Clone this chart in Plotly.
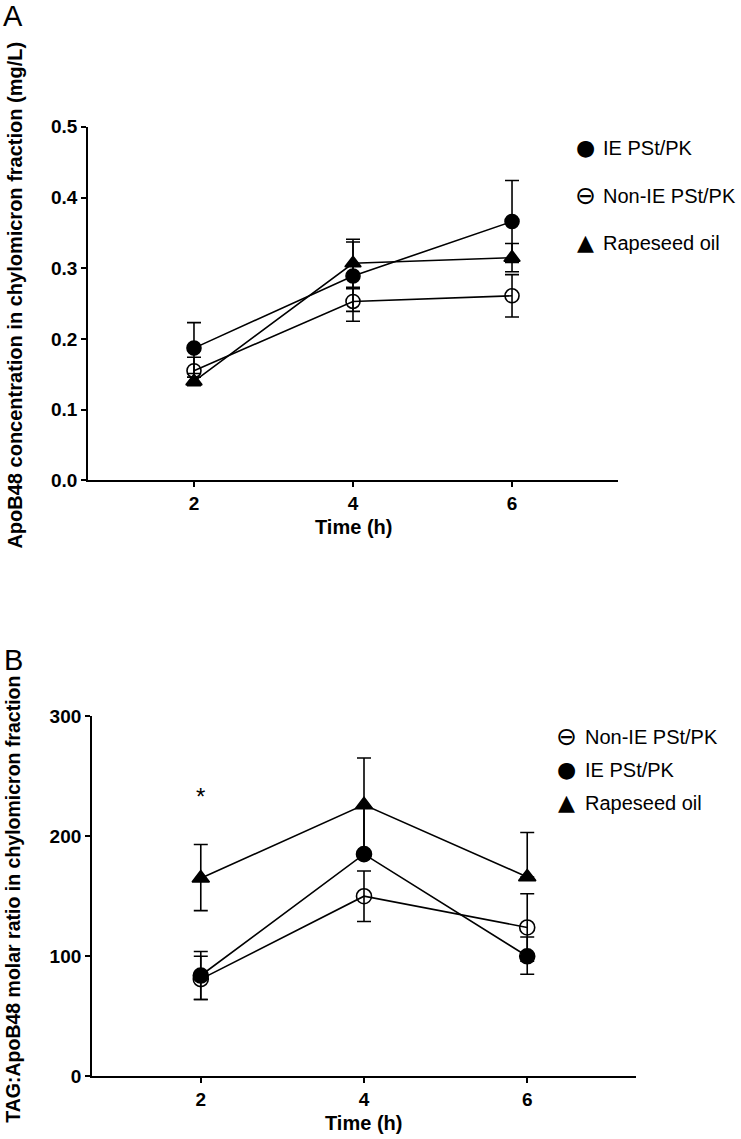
import plotly.graph_objects as go

W, H = 741, 1139

# ---------------- data ----------------
time_h = [2, 4, 6]

# Panel A: ApoB48 concentration (mg/L)
a_ie = [0.187, 0.289, 0.366]
a_ie_up = [0.036, 0.048, 0.058]
a_ie_dn = [0.036, 0.050, 0.058]
a_non = [0.155, 0.253, 0.261]
a_non_up = [0.019, 0.018, 0.030]
a_non_dn = [0.019, 0.028, 0.030]
a_rape = [0.140, 0.307, 0.315]
a_rape_up = [0.006, 0.034, 0.020]
a_rape_dn = [0.006, 0.034, 0.020]

# Panel B: TAG:ApoB48 molar ratio
b_non = [81, 150, 124]
b_non_up = [19, 21, 28]
b_non_dn = [17, 21, 28]
b_ie = [84, 185, 100]
b_ie_up = [20, 40, 16]
b_ie_dn = [20, 0, 15]
b_rape = [165, 226, 166]
b_rape_up = [28, 39, 37]
b_rape_dn = [27, 39, 0]

yticks_a = [0.0, 0.1, 0.2, 0.3, 0.4, 0.5]
yticks_a_txt = ["0.0", "0.1", "0.2", "0.3", "0.4", "0.5"]
yticks_b = [0, 100, 200, 300]
xticks = [2, 4, 6]

FONT = "Liberation Sans, Arial, sans-serif"

def px_x(p):
    return p / W

def px_y(p):
    # empirical correction for the vertical placement seen in the photographs
    q = (p - 9) / 0.983
    return 1 - q / H

fig = go.Figure()

def add_series(y, up, dn, symbol, xa, ya, size):
    fig.add_trace(go.Scatter(
        x=time_h, y=y, mode="lines+markers", xaxis=xa, yaxis=ya,
        line=dict(color="black", width=1.6),
        marker=dict(symbol=symbol, size=size, color="black",
                    line=dict(color="black", width=1.6)),
        error_y=dict(type="data", symmetric=False, array=up, arrayminus=dn,
                     color="black", thickness=1.6, width=7),
        showlegend=False, cliponaxis=False,
    ))

# Panel A
add_series(a_rape, a_rape_up, a_rape_dn, "triangle-up", "x", "y", 14)
add_series(a_non, a_non_up, a_non_dn, "circle-open", "x", "y", 14)
add_series(a_ie, a_ie_up, a_ie_dn, "circle", "x", "y", 14)
# Panel B
add_series(b_rape, b_rape_up, b_rape_dn, "triangle-up", "x2", "y2", 15)
add_series(b_non, b_non_up, b_non_dn, "circle-open", "x2", "y2", 15)
add_series(b_ie, b_ie_up, b_ie_dn, "circle", "x2", "y2", 15)

axis_common = dict(
    showgrid=False, zeroline=False, showline=True, linecolor="black", linewidth=1.8,
    ticks="outside", ticklen=5, tickwidth=1.6, tickcolor="black",
    tickfont=dict(family=FONT, size=19, color="black", weight="bold"),
)

fig.update_layout(
    width=W, height=H,
    margin=dict(l=0, r=0, t=0, b=0),
    paper_bgcolor="white", plot_bgcolor="white",
    xaxis=dict(domain=[px_x(88), px_x(618)], range=[0.667, 7.333],
               tickvals=xticks, anchor="y", **axis_common),
    yaxis=dict(domain=[px_y(480), px_y(126)], range=[0, 0.5],
               tickvals=yticks_a, ticktext=yticks_a_txt, anchor="x", **axis_common),
    xaxis2=dict(domain=[px_x(92), px_x(636)], range=[0.667, 7.333],
                tickvals=xticks, anchor="y2", **axis_common),
    yaxis2=dict(domain=[px_y(1077), px_y(716)], range=[0, 300],
                tickvals=yticks_b, anchor="x2", **axis_common),
    showlegend=False,
)

ann = []
def text(x, y, s, size=19, bold=True, angle=0, xanchor="center", family=FONT):
    ann.append(dict(x=px_x(x), y=px_y(y), xref="paper", yref="paper", text=s,
                    showarrow=False, textangle=angle, xanchor=xanchor, yanchor="middle",
                    font=dict(family=family, size=size, color="black",
                              weight="bold" if bold else "normal")))

# Panel letters
LET = "Liberation Sans Narrow, Liberation Sans, sans-serif"
text(13, 15, "A", size=29, bold=False, family=LET)
text(13, 660, "B", size=29, bold=False, family=LET)

# Axis titles
text(353, 527, "Time (h)", size=20)
text(363, 1124, "Time (h)", size=20)
text(15, 295, "ApoB48 concentration in chylomicron fraction (mg/L)", size=20, angle=-90)
text(13, 900, "TAG:ApoB48 molar ratio in chylomicron fraction", size=19.5, angle=-90)

# Significance marker
ann.append(dict(x=2, y=233, xref="x2", yref="y2", text="*", showarrow=False,
                font=dict(family=FONT, size=24, color="black")))

# Legends
SYM = "DejaVu Sans, sans-serif"
def legend_row(xs, xt, y, sym, label, ssize=22):
    text(xs, y, sym, size=ssize, bold=False, family=SYM)
    text(xt, y, label, size=20, bold=False, xanchor="left")

legend_row(585, 601, 147, "●", "IE PSt/PK")
legend_row(585, 601, 195, "⊖", "Non-IE PSt/PK", 25)
legend_row(585, 601, 242, "▲", "Rapeseed oil")

legend_row(566, 583, 737, "⊖", "Non-IE PSt/PK", 25)
legend_row(566, 583, 770, "●", "IE PSt/PK")
legend_row(566, 583, 803, "▲", "Rapeseed oil")

fig.update_layout(annotations=ann)

fig.write_html(
    "out.html",
    config={"displayModeBar": False},
    post_script="document.body.style.margin='0';document.body.style.overflow='hidden';",
)
